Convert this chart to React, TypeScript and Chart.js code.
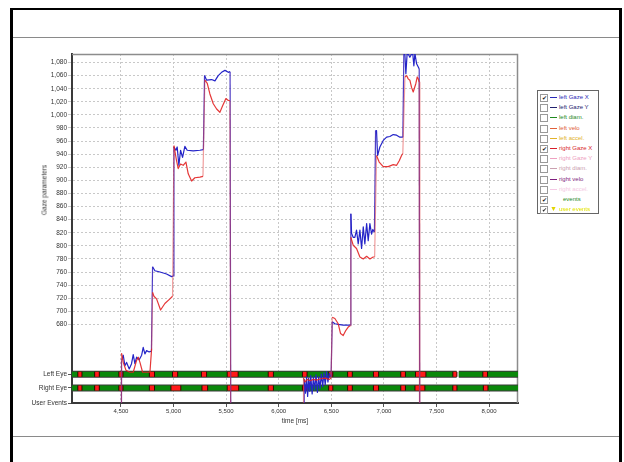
import React, { useEffect, useRef } from 'react';
import { Chart, registerables } from 'chart.js';

Chart.register(...registerables);

const FONT = '"Liberation Sans", Arial, sans-serif';

// ---- axes ----
const X_MIN = 4035;
const X_MAX = 8275;
const Y_MIN = 560;
const Y_MAX = 1093;
const xTickValues = [4500, 5000, 5500, 6000, 6500, 7000, 7500, 8000];
const gazeTickValues = [680, 700, 720, 740, 760, 780, 800, 820, 840, 860, 880, 900, 920, 940, 960, 980, 1000, 1020, 1040, 1060, 1080];
const eyeRowValues = [604, 583, 560];
const eyeRowLabels = ['Left Eye', 'Right Eye', 'User Events'];

// ---- left gaze X (blue) ----
const leftTime = [
  4499, 4506, 4522, 4538, 4554, 4579, 4601, 4617, 4633, 4649, 4674, 4697, 4712, 4728, 4744, 4769, 4790,
  4801, 4823, 4871, 4934, 4982, 4996,
  5004, 5023, 5035, 5051, 5067, 5086, 5108, 5130, 5187, 5251, 5284,
  5295, 5315, 5362, 5394, 5425, 5457, 5489, 5521, 5538, 5550,
  6236, 6243, 6255, 6265, 6275, 6285, 6295, 6305, 6318, 6330, 6342, 6355, 6368, 6380, 6392, 6405, 6418, 6430, 6442, 6455, 6468, 6480, 6498,
  6509, 6534, 6566, 6613, 6661, 6678,
  6686, 6693, 6708, 6724, 6740, 6756, 6772, 6788, 6804, 6819, 6836, 6851, 6867, 6883, 6895, 6910,
  6921, 6930, 6940, 6962, 6994, 7026, 7057, 7089, 7121, 7152, 7180,
  7190, 7200, 7209, 7222, 7247, 7273, 7285, 7295, 7311, 7327, 7336, 7345,
];
const leftGazeX = [
  0, 625, 633, 617, 622, 612, 620, 634, 620, 630, 626, 633, 645, 635, 640, 638, 639,
  768, 762, 760, 757, 753, 754,
  951, 946, 951, 923, 946, 935, 952, 946, 945, 946, 947,
  1060, 1053, 1054, 1052, 1060, 1065, 1068, 1065, 1066, 0,
  0, 596, 575, 600, 570, 598, 578, 602, 574, 600, 580, 603, 576, 600, 582, 604, 585, 606, 588, 608, 592, 605, 600,
  684, 681, 680, 679, 679, 679,
  849, 819, 813, 813, 824, 803, 824, 796, 829, 803, 834, 808, 834, 818, 825, 821,
  976, 976, 938, 951, 961, 966, 967, 970, 969, 966, 966,
  1096, 1091, 1063, 1096, 1088, 1096, 1075, 1094, 1078, 1073, 1070, 0,
];

// ---- right gaze X (red) ----
const rightTime = [
  4499, 4506, 4522, 4548, 4586, 4617, 4649, 4665, 4681, 4706, 4744, 4776, 4792,
  4801, 4814, 4839, 4877, 4918, 4966, 4991,
  5004, 5029, 5045, 5067, 5092, 5118, 5140, 5172, 5203, 5251, 5280,
  5298, 5321, 5346, 5378, 5410, 5441, 5467, 5498, 5521, 5536, 5552,
  6232, 6236, 6250, 6270, 6300, 6330, 6360, 6400, 6440, 6480, 6498,
  6509, 6534, 6566, 6588, 6613, 6639, 6661, 6678,
  6686, 6708, 6740, 6772, 6804, 6836, 6867, 6898, 6912,
  6930, 6955, 6994, 7041, 7089, 7121, 7146, 7168, 7180,
  7200, 7216, 7231, 7247, 7263, 7279, 7304, 7317, 7327, 7335, 7342,
];
const rightGazeX = [
  0, 636, 622, 610, 607, 607, 625, 630, 622, 607, 607, 607, 643,
  729, 723, 719, 702, 712, 719, 723,
  953, 930, 918, 925, 923, 928, 910, 899, 904, 905, 906,
  1053, 1048, 1032, 1017, 1009, 1004, 1014, 1025, 1022, 1022, 0,
  0, 598, 592, 596, 594, 596, 595, 597, 598, 596, 598,
  691, 689, 681, 666, 663, 671, 676, 678,
  813, 801, 796, 783, 780, 784, 780, 783, 783,
  938, 928, 921, 921, 924, 923, 930, 938, 941,
  1058, 1060, 1055, 1053, 1042, 1035, 1048, 1058, 1055, 1050, 0,
];

// ---- event bands ----
const leftEyeTracked = [[4035, 7692], [7712, 8275]];
const rightEyeTracked = [[4035, 8275]];
const leftEyeEvents = [
  [4095, 4125], [4255, 4290], [4485, 4515], [4775, 4815], [4995, 5035], [5270, 5310], [5515, 5610],
  [5905, 5945], [6230, 6265], [6480, 6510], [6660, 6695], [6905, 6945], [7165, 7200], [7305, 7395],
  [7660, 7690], [7945, 7980],
];
const rightEyeEvents = [
  [4095, 4125], [4255, 4290], [4485, 4515], [4775, 4815], [4980, 5065], [5275, 5320], [5515, 5615],
  [5905, 5945], [6230, 6265], [6480, 6510], [6660, 6695], [6905, 6945], [7165, 7200], [7300, 7385],
  [7660, 7690], [7950, 7985],
];

// ---- legend ----
const legendLabels = ['left Gaze X', 'left Gaze Y', 'left diam.', 'left velo', 'left accel.', 'right Gaze X', 'right Gaze Y', 'right diam.', 'right velo', 'right accel.', 'events', 'user events'];
const legendColors = ['#2a2ab8', '#22226e', '#1f8a1f', '#e0603a', '#e2b22a', '#d81e2a', '#eea0c0', '#caa0b0', '#7e1e7e', '#f4c8e4', '#1f8a1f', '#e2e200'];
const legendChecked = [true, false, false, false, false, true, false, false, false, false, true, true];

const toPoints = (ts: number[], vs: number[]) => ts.map((t, i) => ({ x: t, y: vs[i] }));
const segPoints = (segs: number[][], y: number, ext = 0) =>
  segs.flatMap(([a, b]) => [{ x: a - ext, y }, { x: b + ext, y }, { x: b + ext, y: null }]);

function ChartCanvas() {
  const ref = useRef<HTMLCanvasElement | null>(null);
  useEffect(() => {
    if (!ref.current) return;
    const framePlugin = {
      id: 'frame',
      beforeDatasetsDraw(chart: any) {
        const { ctx, chartArea: a } = chart;
        ctx.save();
        ctx.strokeStyle = '#8c8c8c';
        ctx.lineWidth = 1.5;
        ctx.beginPath();
        ctx.moveTo(a.left, a.top + 0.5);
        ctx.lineTo(a.right - 0.5, a.top + 0.5);
        ctx.lineTo(a.right - 0.5, a.bottom);
        ctx.stroke();
        ctx.restore();
      },
    };
    const line = (data: any[], color: string, width: number, order: number, jumpColor?: string) => ({
      data,
      borderColor: color,
      backgroundColor: color,
      borderWidth: width,
      pointRadius: 0,
      tension: 0,
      spanGaps: false,
      order,
      borderJoinStyle: 'round',
      segment: jumpColor
        ? {
            borderColor: (c: any) =>
              Math.abs(c.p0.parsed.y - c.p1.parsed.y) > 60 ? jumpColor : undefined,
          }
        : undefined,
    });
    const chart = new Chart(ref.current, {
      type: 'line',
      data: {
        datasets: [
          line(toPoints(leftTime, leftGazeX), '#2424c8', 1.2, 2, 'rgba(60,40,190,0.9)'),
          line(toPoints(rightTime, rightGazeX), 'rgba(226,34,34,0.9)', 1.2, 1, 'rgba(226,60,60,0.5)'),
          line(segPoints(leftEyeTracked, eyeRowValues[0]), '#3a3a3a', 7, 20),
          line(segPoints(leftEyeTracked, eyeRowValues[0]), '#0a880a', 5, 19),
          line(segPoints(rightEyeTracked, eyeRowValues[1]), '#3a3a3a', 7, 18),
          line(segPoints(rightEyeTracked, eyeRowValues[1]), '#0a880a', 5, 17),
          line(segPoints(leftEyeEvents, eyeRowValues[0], 9), '#2a0000', 5, 16),
          line(segPoints(leftEyeEvents, eyeRowValues[0]), '#ff1a1a', 5, 15),
          line(segPoints(rightEyeEvents, eyeRowValues[1], 9), '#2a0000', 5, 14),
          line(segPoints(rightEyeEvents, eyeRowValues[1]), '#ff1a1a', 5, 13),
        ] as any,
      },
      options: {
        animation: false,
        responsive: false,
        events: [],
        layout: { padding: { top: 14, right: 94, left: 0, bottom: 0 } },
        plugins: { legend: { display: false }, tooltip: { enabled: false } },
        scales: {
          x: {
            type: 'linear',
            min: X_MIN,
            max: X_MAX,
            afterBuildTicks: (s: any) => { s.ticks = xTickValues.map((v) => ({ value: v })); },
            afterFit: (s: any) => { s.height = 32; },
            ticks: {
              autoSkip: false,
              maxRotation: 0,
              padding: 1,
              color: '#333',
              font: { family: FONT, size: 6 },
              callback: (v: any) => Number(v).toLocaleString('en-US'),
            },
            grid: { color: '#c8c8c8', tickColor: '#555', tickLength: 4, lineWidth: 1 },
            border: { color: '#3a3a3a', width: 2, dash: [2, 2] },
          },
          y: {
            type: 'linear',
            min: Y_MIN,
            max: Y_MAX,
            afterBuildTicks: (s: any) => {
              s.ticks = [...eyeRowValues, ...gazeTickValues].sort((a, b) => a - b).map((v) => ({ value: v }));
            },
            afterFit: (s: any) => { s.width = 60; },
            ticks: {
              autoSkip: false,
              padding: 1,
              color: '#333',
              font: { family: FONT, size: 6.5 },
              callback: (v: any) => {
                const i = eyeRowValues.indexOf(Number(v));
                return i >= 0 ? eyeRowLabels[i] : Number(v).toLocaleString('en-US');
              },
            },
            grid: {
              color: (c: any) => (c.tick && c.tick.value >= 670 ? '#c8c8c8' : 'rgba(0,0,0,0)'),
              tickColor: (c: any) => (c.tick && c.tick.value >= 670 ? '#c8c8c8' : '#555'),
              tickLength: 4,
              lineWidth: 1,
            },
            border: { color: '#3a3a3a', width: 2, dash: [2, 2] },
          },
        },
      } as any,
      plugins: [framePlugin],
    });
    return () => chart.destroy();
  }, []);
  return (
    <canvas
      ref={ref}
      width={600}
      height={395}
      style={{ position: 'absolute', left: 12, top: 40, width: 600, height: 395 }}
    />
  );
}

function Legend() {
  return (
    <div
      style={{
        position: 'absolute', left: 537, top: 90, width: 60, height: 122,
        border: '1px solid #666', background: '#fff', fontFamily: FONT, fontSize: 6,
      }}
    >
      {legendLabels.map((label, i) => (
        <div key={label} style={{ position: 'absolute', left: 0, top: 1 + i * 10.2, height: 10, width: 60 }}>
          <div
            style={{
              position: 'absolute', left: 2, top: 2, width: 6, height: 6, border: '1px solid #999',
              background: '#fff', fontSize: 6, lineHeight: '6px', textAlign: 'center', color: '#222',
            }}
          >
            {legendChecked[i] ? '✔' : ''}
          </div>
          {i < 10 && (
            <div style={{ position: 'absolute', left: 12, top: 5, width: 7, height: 1, background: legendColors[i] }} />
          )}
          {i === 11 && (
            <div style={{ position: 'absolute', left: 12, top: 0, fontSize: 7, lineHeight: '10px', color: '#e2d400' }}>▼</div>
          )}
          <div
            style={{
              position: 'absolute', left: i === 10 ? 25 : 21, top: 0, lineHeight: '10px',
              color: legendColors[i], whiteSpace: 'nowrap',
            }}
          >
            {label}
          </div>
        </div>
      ))}
    </div>
  );
}

export default function App() {
  return (
    <div
      style={{
        position: 'absolute', left: 0, top: 0, width: 624, height: 462,
        background: '#fff', overflow: 'hidden', fontFamily: FONT,
      }}
    >
      <div style={{ position: 'absolute', left: 10, top: 8, width: 612, height: 2, background: '#000' }} />
      <div style={{ position: 'absolute', left: 10, top: 8, width: 3, height: 454, background: '#000' }} />
      <div style={{ position: 'absolute', left: 619, top: 8, width: 3, height: 454, background: '#000' }} />
      <div style={{ position: 'absolute', left: 13, top: 37, width: 606, height: 1, background: '#8a8a8a' }} />
      <div style={{ position: 'absolute', left: 13, top: 436, width: 606, height: 1, background: '#8a8a8a' }} />
      <ChartCanvas />
      <div
        style={{
          position: 'absolute', left: 44, top: 190, fontSize: 6.5, color: '#333', whiteSpace: 'nowrap',
          transform: 'translate(-50%, -50%) rotate(-90deg)',
        }}
      >
        Gaze parameters
      </div>
      <div
        style={{
          position: 'absolute', left: 295, top: 420, fontSize: 6.5, color: '#333', whiteSpace: 'nowrap',
          transform: 'translate(-50%, -50%)',
        }}
      >
        time [ms]
      </div>
      <Legend />
    </div>
  );
}
